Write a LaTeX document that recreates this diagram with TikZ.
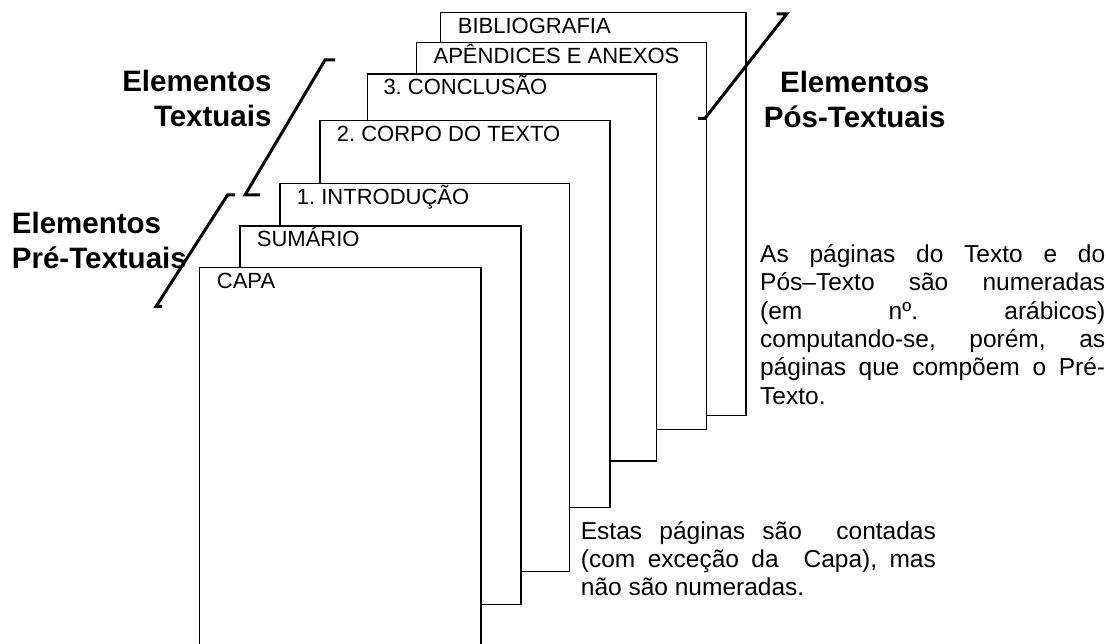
\documentclass[tikz,border=0pt]{standalone}
\usepackage{fontspec}
\setmainfont{Liberation Sans}
\usetikzlibrary{positioning}
\hbadness=10000
\frenchspacing

\begin{document}
\begin{tikzpicture}[x=1pt,y=-1pt,
    page/.style={draw,fill=white,line width=1.3pt,anchor=north west,inner sep=0pt,outer sep=0pt},
    pagelabel/.style={anchor=base west,inner sep=0pt,font=\fontsize{22}{26}\selectfont},
    group/.style={inner sep=0pt,font=\fontsize{29.5}{35}\selectfont\bfseries},
    note/.style={anchor=base west,inner sep=0pt,align=justify,font=\fontsize{24.5}{28.3}\selectfont},
    bracket/.style={line width=3pt,line join=miter}]

    \useasboundingbox (0,0) rectangle (1106,644);

    % pages, from the back to the front
    \node[page,minimum width=305.3pt,minimum height=403pt] (bib) at (440.7,12.7) {};
    \node[pagelabel] (bibtxt) at ([shift={(17,20.6)}]bib.north west) {BIBLIOGRAFIA};

    \node[page,minimum width=289.8pt,minimum height=386.6pt] (apx) at (416.7,42.7) {};
    \node[pagelabel] (apxtxt) at ([shift={(16.7,20.6)}]apx.north west) {APÊNDICES E ANEXOS};

    \node[page,minimum width=289.4pt,minimum height=387pt] (conc) at (367.3,74) {};
    \node[pagelabel] (conctxt) at ([shift={(16,20.3)}]conc.north west) {3. CONCLUSÃO};

    \node[page,minimum width=290pt,minimum height=387.2pt] (body) at (320,120.5) {};
    \node[pagelabel] (bodytxt) at ([shift={(16.7,21.2)}]body.north west) {2. CORPO DO TEXTO};

    \node[page,minimum width=289.3pt,minimum height=388.2pt] (intro) at (280,183.3) {};
    \node[pagelabel] (introtxt) at ([shift={(16.7,21.7)}]intro.north west) {1. INTRODUÇÃO};

    \node[page,minimum width=281pt,minimum height=378.3pt] (summ) at (240,226) {};
    \node[pagelabel] (summtxt) at ([shift={(16.7,20.7)}]summ.north west) {SUMÁRIO};

    \node[page,minimum width=281.5pt,minimum height=392pt] (cover) at (199.5,267.7) {};
    \node[pagelabel] (covertxt) at ([shift={(17.2,21.3)}]cover.north west) {CAPA};

    % groups (base = last line)
    \node[group,anchor=base east,align=right] (textual) at (271.7,127) {Elementos\\Textuais};
    \node[group,anchor=base west,align=left] (pretextual) at (11.7,269) {Elementos\\Pré-Textuais};
    \node[group,anchor=base,align=center] (posttextual) at (854.7,128) {Elementos\\Pós-Textuais};

    \draw[bracket] (776.7,14) -- (786.7,14) -- (705,118.3) -- (698,118.3);
    \draw[bracket] (335,60) -- (325,60) -- (245,195) -- (260,195);
    \draw[bracket] (235,195) -- (227.5,195) -- (156,306.5) -- (162,306.5);

    % notes
    \node[note,text width=345pt] (numbered) at (760,262.7)
        {As páginas do Texto e do\linebreak Pós–Texto são numeradas\linebreak
         (em nº. arábicos)\linebreak computando-se, porém, as\linebreak
         páginas que compõem o Pré-\linebreak Texto.};
    \node[note,text width=355pt] (counted) at (580.7,539.3)
        {Estas páginas são\ \ contadas\linebreak (com exceção da\ \ Capa), mas\linebreak
         não são numeradas.};

\end{tikzpicture}
\end{document}
